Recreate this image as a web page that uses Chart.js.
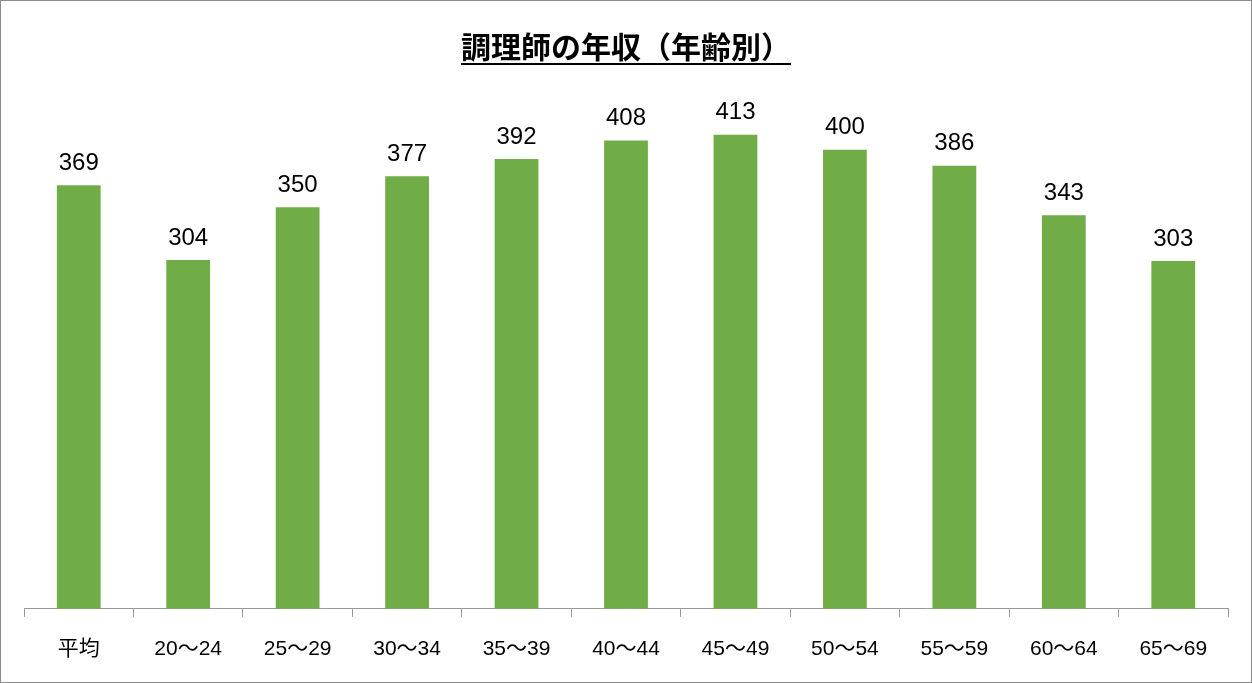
<!DOCTYPE html>
<html>
<head>
<meta charset="utf-8">
<script src="https://cdn.jsdelivr.net/npm/chart.js@4/dist/chart.umd.min.js"></script>
<style>
  html, body { margin: 0; padding: 0; background: #fff; }
  #wrap { position: relative; width: 1250px; height: 681px; border: 1px solid #8c8c8c; }
  #title {
    position: absolute; left: 0; right: 0; top: 22px; text-align: center;
    font-family: "Noto Sans CJK JP", sans-serif; font-weight: bold; font-size: 30px;
    color: #000; text-decoration: underline; text-underline-offset: 5px; text-decoration-thickness: 2px;
  }
</style>
</head>
<body>
<div id="wrap">
  <div id="title">調理師の年収（年齢別）</div>
  <canvas id="chart" width="1250" height="681"></canvas>
</div>
<script>
const categories = ["平均", "20〜24", "25〜29", "30〜34", "35〜39", "40〜44", "45〜49", "50〜54", "55〜59", "60〜64", "65〜69"];
const salaries = [369, 304, 350, 377, 392, 408, 413, 400, 386, 343, 303];

const valueLabels = {
  id: "valueLabels",
  afterDatasetsDraw(chart) {
    const ctx = chart.ctx;
    const meta = chart.getDatasetMeta(0);
    ctx.save();
    ctx.font = "24px 'Liberation Sans', Arial, sans-serif";
    ctx.fillStyle = "#000";
    ctx.textAlign = "center";
    ctx.textBaseline = "bottom";
    meta.data.forEach((bar, i) => {
      ctx.fillText(String(salaries[i]), bar.x, bar.y - 10);
    });
    ctx.restore();
  }
};

new Chart(document.getElementById("chart"), {
  type: "bar",
  data: {
    labels: categories,
    datasets: [{
      data: salaries,
      backgroundColor: "#70ad47",
      categoryPercentage: 1,
      barPercentage: 0.4
    }]
  },
  options: {
    responsive: false,
    animation: false,
    layout: { padding: { left: 23, right: 23, top: 34, bottom: 0 } },
    plugins: { legend: { display: false }, tooltip: { enabled: false } },
    scales: {
      y: { display: false, min: 0, max: 500 },
      x: {
        border: { color: "#999", width: 1 },
        grid: { offset: true, drawOnChartArea: false, drawTicks: true, tickLength: 8, color: "#999" },
        ticks: {
          color: "#000",
          padding: 20,
          font: { size: 21, family: "'Liberation Sans', 'Noto Sans CJK JP', sans-serif" }
        }
      }
    }
  },
  plugins: [valueLabels]
});
</script>
</body>
</html>
